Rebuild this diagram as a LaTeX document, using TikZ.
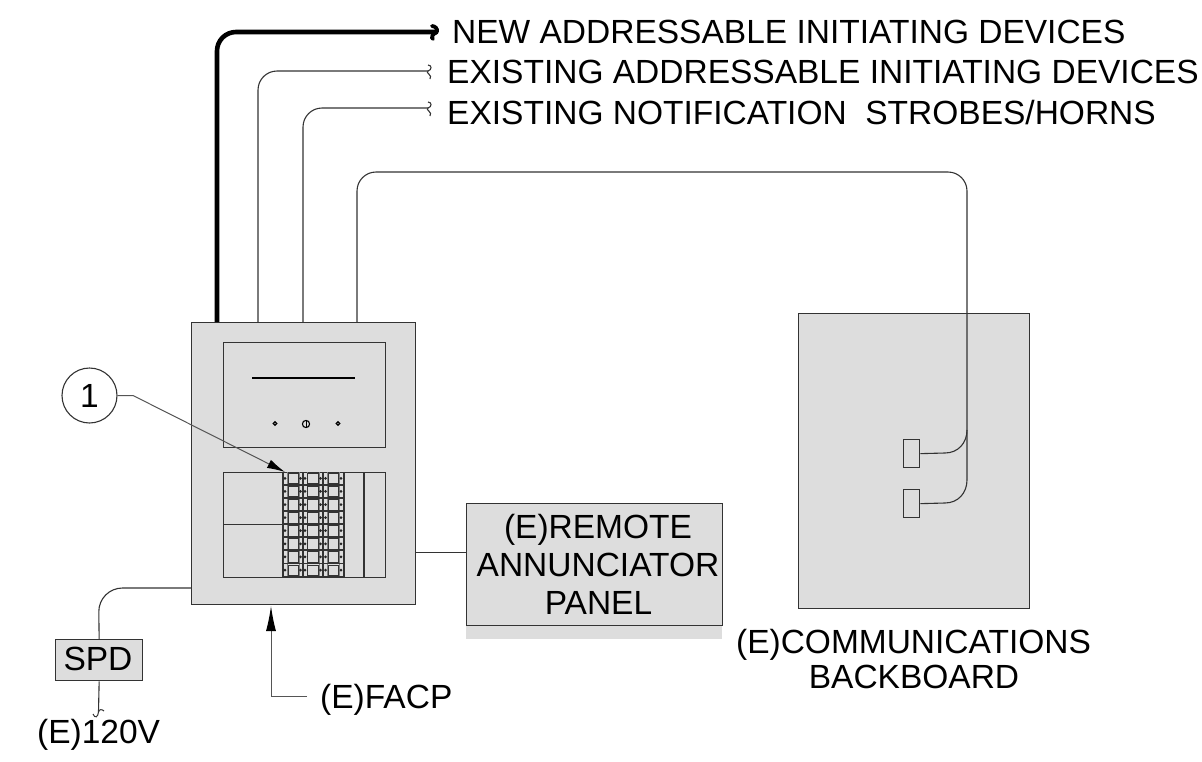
\documentclass[tikz,border=0pt]{standalone}
\usepackage{fontspec}
\setmainfont{Liberation Sans}
\usetikzlibrary{arrows.meta}
\definecolor{panelgray}{HTML}{DDDDDD}
\definecolor{linegray}{HTML}{333333}
\definecolor{leadgray}{HTML}{555555}
\tikzset{
  box/.style={draw=linegray,fill=panelgray,line width=1.3pt,inner sep=0pt,anchor=north west},
  lbl/.style={inner sep=0pt,anchor=base west,font=\fontsize{33.5}{33.5}\selectfont,text=black},
  clbl/.style={inner sep=0pt,anchor=base,font=\fontsize{33.5}{33.5}\selectfont,text=black},
  wire/.style={draw=linegray,line width=1.1pt},
  thickwire/.style={draw=black,line width=4.6pt},
  leader/.style={draw=leadgray,line width=1pt},
  tipa/.style={-{Latex[length=18pt,width=9pt,color=black]}},
  tipb/.style={-{Latex[length=25pt,width=10pt,color=black]}}
}
\newcommand{\boxnode}[5]{\node[box,minimum width=#4 pt,minimum height=#5 pt] (#1) at (#2,#3) {};}
\begin{document}
\begin{tikzpicture}[x=1pt,y=-1pt]
\useasboundingbox (0,0) rectangle (1202,761);
% shadow + boxes
\fill[panelgray] (466,625) rectangle (722,639);
\boxnode{facp}{191}{322}{224}{282}
\boxnode{upper}{223}{342}{162}{105}
\boxnode{lower}{223}{472}{162}{105}
\boxnode{remote}{466}{503}{256}{122}
\boxnode{board}{798}{313}{231}{295}
\boxnode{spd}{55}{639}{87}{41}
\boxnode{termA}{903}{439}{16}{28}
\boxnode{termB}{903}{489}{16}{28}
% upper panel details
\draw[line width=1.3pt,draw=black] (252,378) -- (355,378);
\draw[line width=1.2pt,fill=panelgray] (275,423.5) circle (1.7pt);
\draw[line width=1.2pt,fill=panelgray] (338,423.5) circle (1.7pt);
\draw[line width=1.1pt,fill=panelgray] (306,424) circle (3.6pt);
\draw[line width=.9pt] (306,420.5) -- (306,427.5);
% lower panel details
\draw[wire] (223,524.5) -- (283,524.5);
\foreach \x in {283,303,323,344,364} \draw[draw=linegray,line width=1.3pt] (\x,472) -- (\x,577);
\foreach \x in {287,299,307,319,327,339} \draw[draw=gray,line width=.7pt] (\x,472) -- (\x,577);
\foreach \r in {0,...,7}{
  \pgfmathsetmacro\ya{472+13.1*\r+1.3}
  \pgfmathsetmacro\yb{\ya+10.5}
  \pgfmathsetmacro\yc{\ya+5}
  \foreach \xa/\xb in {288/298,307/318,328/338}
    \draw[draw=linegray,line width=.9pt,fill=panelgray] (\xa,\ya) rectangle (\xb,\yb);
  \draw[draw=linegray,line width=1.8pt] (283,\yb+1) -- (344,\yb+1);
  \foreach \x in {285,300.5,305,320.5,325.5,341}
    \fill[black!85] (\x,\yc) circle (1.5pt);
}
% top wires
\coordinate (newEnd) at (437,32);
\coordinate (existA) at (428,71);
\coordinate (existB) at (428,108);
\draw[thickwire,rounded corners=19pt] (217,322) -- (217,32) -- (newEnd);
\draw[wire,rounded corners=19pt] (258,322) -- (258,71) -- (existA);
\draw[wire,rounded corners=19pt] (303,322) -- (303,108) -- (existB);
\draw[wire] (existA) .. controls (432,70) and (432,65) .. (428,65) (existA) .. controls (425,73) and (433,75) .. (430,79);
\draw[wire] (existB) .. controls (432,107) and (432,102) .. (428,102) (existB) .. controls (425,110) and (433,112) .. (430,116);
\draw[line width=3.8pt,line cap=round] (newEnd) .. controls (438,29) and (435,26) .. (432,26) (newEnd) .. controls (432,34) and (431,38) .. (433,39);
% long wire to backboard
\draw[wire,rounded corners=19pt] (357,322) -- (357,172) -- (967,172) -- (967,480);
\draw[wire] (termA.east) -- (945,453) .. controls (958,453) and (967,443) .. (967,430);
\draw[wire] (termB.east) -- (945,503) .. controls (958,503) and (967,493) .. (967,480);
% remote link
\draw[wire] (facp.east |- 0,552.5) -- (remote.west |- 0,552.5);
% SPD
\draw[wire,rounded corners=24pt] (spd.north) -- (98.5,588) -- (191,588);
\coordinate (mainsEnd) at (98.5,712);
\draw[wire] (spd.south) -- (mainsEnd);
\draw[line width=1pt,draw=linegray] (93,714) .. controls (95,719) and (98,717) .. (98.5,712) .. controls (99,709) and (102,709) .. (104,711);
% callout
\node[draw=linegray,fill=white,line width=1.1pt,circle,minimum size=55pt,inner sep=0pt,font=\fontsize{33.5}{33.5}\selectfont] (tag) at (89.5,395.5) {1};
\draw[leader,tipa] (tag.east) -- (133,395.5) -- (285,472);
% FACP arrow
\node[lbl] (facptext) at (320,708) {(E)FACP};
\coordinate (facpLead) at (307,696);
\draw[leader,tipb] (facpLead) -- (271,696) -- (271,606);
% labels
\node[lbl] (t1) at (452,43) {NEW ADDRESSABLE INITIATING DEVICES};
\node[lbl] (t2) at (447,83) {EXISTING ADDRESSABLE INITIATING DEVICES};
\node[lbl] (t3) at (447,124) {EXISTING NOTIFICATION\ \ STROBES/HORNS};
\node[clbl] (r1) at (598,538) {(E)REMOTE};
\node[clbl] (r2) at (598,576) {ANNUNCIATOR};
\node[clbl] (r3) at (598.5,614) {PANEL};
\node[clbl] (spdt) at (98,670) {SPD};
\node[clbl] (c1) at (913.5,653) {(E)COMMUNICATIONS};
\node[clbl] (c2) at (914,688) {BACKBOARD};
\node[lbl] (v) at (37,743) {(E)120V};
\end{tikzpicture}
\end{document}
